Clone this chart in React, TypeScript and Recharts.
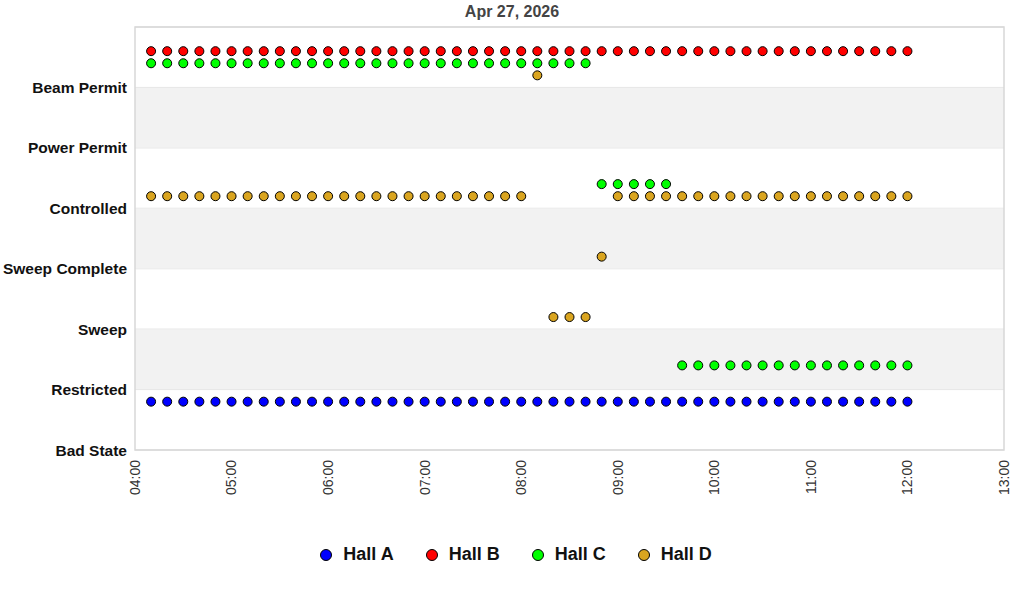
import React from 'react';
import { ScatterChart, Scatter, XAxis, YAxis, CartesianGrid, ReferenceArea } from 'recharts';

const title = 'Apr 27, 2026';

const stateLabels = ['Bad State', 'Restricted', 'Sweep', 'Sweep Complete', 'Controlled', 'Power Permit', 'Beam Permit'];

const hourTicks = ['04:00', '05:00', '06:00', '07:00', '08:00', '09:00', '10:00', '11:00', '12:00', '13:00'];

const times = [
    '04:10', '04:20', '04:30', '04:40', '04:50', '05:00',
    '05:10', '05:20', '05:30', '05:40', '05:50', '06:00',
    '06:10', '06:20', '06:30', '06:40', '06:50', '07:00',
    '07:10', '07:20', '07:30', '07:40', '07:50', '08:00',
    '08:10', '08:20', '08:30', '08:40', '08:50', '09:00',
    '09:10', '09:20', '09:30', '09:40', '09:50', '10:00',
    '10:10', '10:20', '10:30', '10:40', '10:50', '11:00',
    '11:10', '11:20', '11:30', '11:40', '11:50', '12:00',
];

// state index per time (index into stateLabels)
const hallA = [
    0, 0, 0, 0, 0, 0,
    0, 0, 0, 0, 0, 0,
    0, 0, 0, 0, 0, 0,
    0, 0, 0, 0, 0, 0,
    0, 0, 0, 0, 0, 0,
    0, 0, 0, 0, 0, 0,
    0, 0, 0, 0, 0, 0,
    0, 0, 0, 0, 0, 0,
];
const hallB = [
    6, 6, 6, 6, 6, 6,
    6, 6, 6, 6, 6, 6,
    6, 6, 6, 6, 6, 6,
    6, 6, 6, 6, 6, 6,
    6, 6, 6, 6, 6, 6,
    6, 6, 6, 6, 6, 6,
    6, 6, 6, 6, 6, 6,
    6, 6, 6, 6, 6, 6,
];
const hallC = [
    6, 6, 6, 6, 6, 6,
    6, 6, 6, 6, 6, 6,
    6, 6, 6, 6, 6, 6,
    6, 6, 6, 6, 6, 6,
    6, 6, 6, 6, 4, 4,
    4, 4, 4, 1, 1, 1,
    1, 1, 1, 1, 1, 1,
    1, 1, 1, 1, 1, 1,
];
const hallD = [
    4, 4, 4, 4, 4, 4,
    4, 4, 4, 4, 4, 4,
    4, 4, 4, 4, 4, 4,
    4, 4, 4, 4, 4, 4,
    6, 2, 2, 2, 3, 4,
    4, 4, 4, 4, 4, 4,
    4, 4, 4, 4, 4, 4,
    4, 4, 4, 4, 4, 4,
];

const halls = [
    { name: 'Hall A', color: '#0000ff', offset: 0.8, states: hallA },
    { name: 'Hall B', color: '#ff0000', offset: 0.6, states: hallB },
    { name: 'Hall C', color: '#00ff00', offset: 0.4, states: hallC },
    { name: 'Hall D', color: '#daa520', offset: 0.2, states: hallD },
];

const toMin = (s: string) => {
    const [h, m] = s.split(':').map(Number);
    return h * 60 + m;
};

const fmtTime = (v: number) => {
    const h = Math.floor(v / 60);
    const m = v % 60;
    return String(h).padStart(2, '0') + ':' + String(m).padStart(2, '0');
};

const XTick = (props: any) => {
    const { x, y, payload } = props;
    return (
        <text
            x={x}
            y={y + 2}
            transform={`rotate(-90 ${x} ${y + 2})`}
            textAnchor="end"
            dy="0.35em"
            fontSize={14}
            fill="#333"
            fontFamily="'Liberation Sans', Arial, sans-serif"
        >
            {fmtTime(payload.value)}
        </text>
    );
};

const Dot = (color: string) => (props: any) => (
    <circle cx={props.cx} cy={props.cy} r={4.5} fill={color} stroke="#000" strokeWidth={1} />
);

const App = () => {
    const series = halls.map(h => ({
        ...h,
        data: times.map((t, i) => ({ t: toMin(t), v: h.states[i] + h.offset })),
    }));

    return (
        <div style={{ position: 'absolute', left: 0, top: 0, width: 1024, height: 600, background: '#fff', fontFamily: "'Liberation Sans', Arial, sans-serif" }}>
            <div style={{ position: 'absolute', top: 3, left: 0, width: 1024, textAlign: 'center', fontSize: 16, fontWeight: 'bold', color: '#444' }}>
                {title}
            </div>
            <ScatterChart width={1024} height={600} margin={{ top: 27, right: 20, left: 0, bottom: 100 }}>
                <ReferenceArea x1={240} x2={780} y1={1} y2={2} fill="#f2f2f2" fillOpacity={1} stroke="none" />
                <ReferenceArea x1={240} x2={780} y1={3} y2={4} fill="#f2f2f2" fillOpacity={1} stroke="none" />
                <ReferenceArea x1={240} x2={780} y1={5} y2={6} fill="#f2f2f2" fillOpacity={1} stroke="none" />
                <CartesianGrid vertical={false} stroke="#dcdcdc" />
                <ReferenceArea x1={240} x2={780} y1={0} y2={7} fill="none" stroke="#d8d8d8" strokeWidth={1.5} />
                <XAxis
                    type="number"
                    dataKey="t"
                    domain={[240, 780]}
                    ticks={hourTicks.map(toMin)}
                    tick={<XTick />}
                    tickLine={false}
                    axisLine={false}
                    height={50}
                    interval={0}
                />
                <YAxis
                    type="number"
                    dataKey="v"
                    domain={[0, 7]}
                    ticks={[0, 1, 2, 3, 4, 5, 6]}
                    tickFormatter={(v: number) => stateLabels[v] ?? ''}
                    tick={{ fontSize: 15.5, fontWeight: 'bold', fill: '#111' }}
                    tickLine={false}
                    axisLine={false}
                    width={135}
                    interval={0}
                />
                {series.map(s => (
                    <Scatter
                        key={s.name}
                        name={s.name}
                        data={s.data}
                        fill={s.color}
                        shape={Dot(s.color)}
                        isAnimationActive={false}
                    />
                ))}
            </ScatterChart>
            <div style={{ position: 'absolute', top: 544, left: 4, width: 1024, display: 'flex', justifyContent: 'center', alignItems: 'center' }}>
                {halls.map(h => (
                    <div key={h.name} style={{ display: 'flex', alignItems: 'center', margin: '0 16px' }}>
                        <span style={{ display: 'inline-block', width: 10, height: 10, borderRadius: '50%', background: h.color, border: '1px solid #000', marginRight: 11 }} />
                        <span style={{ fontSize: 18, fontWeight: 'bold', color: '#111' }}>{h.name}</span>
                    </div>
                ))}
            </div>
        </div>
    );
};

export default App;
